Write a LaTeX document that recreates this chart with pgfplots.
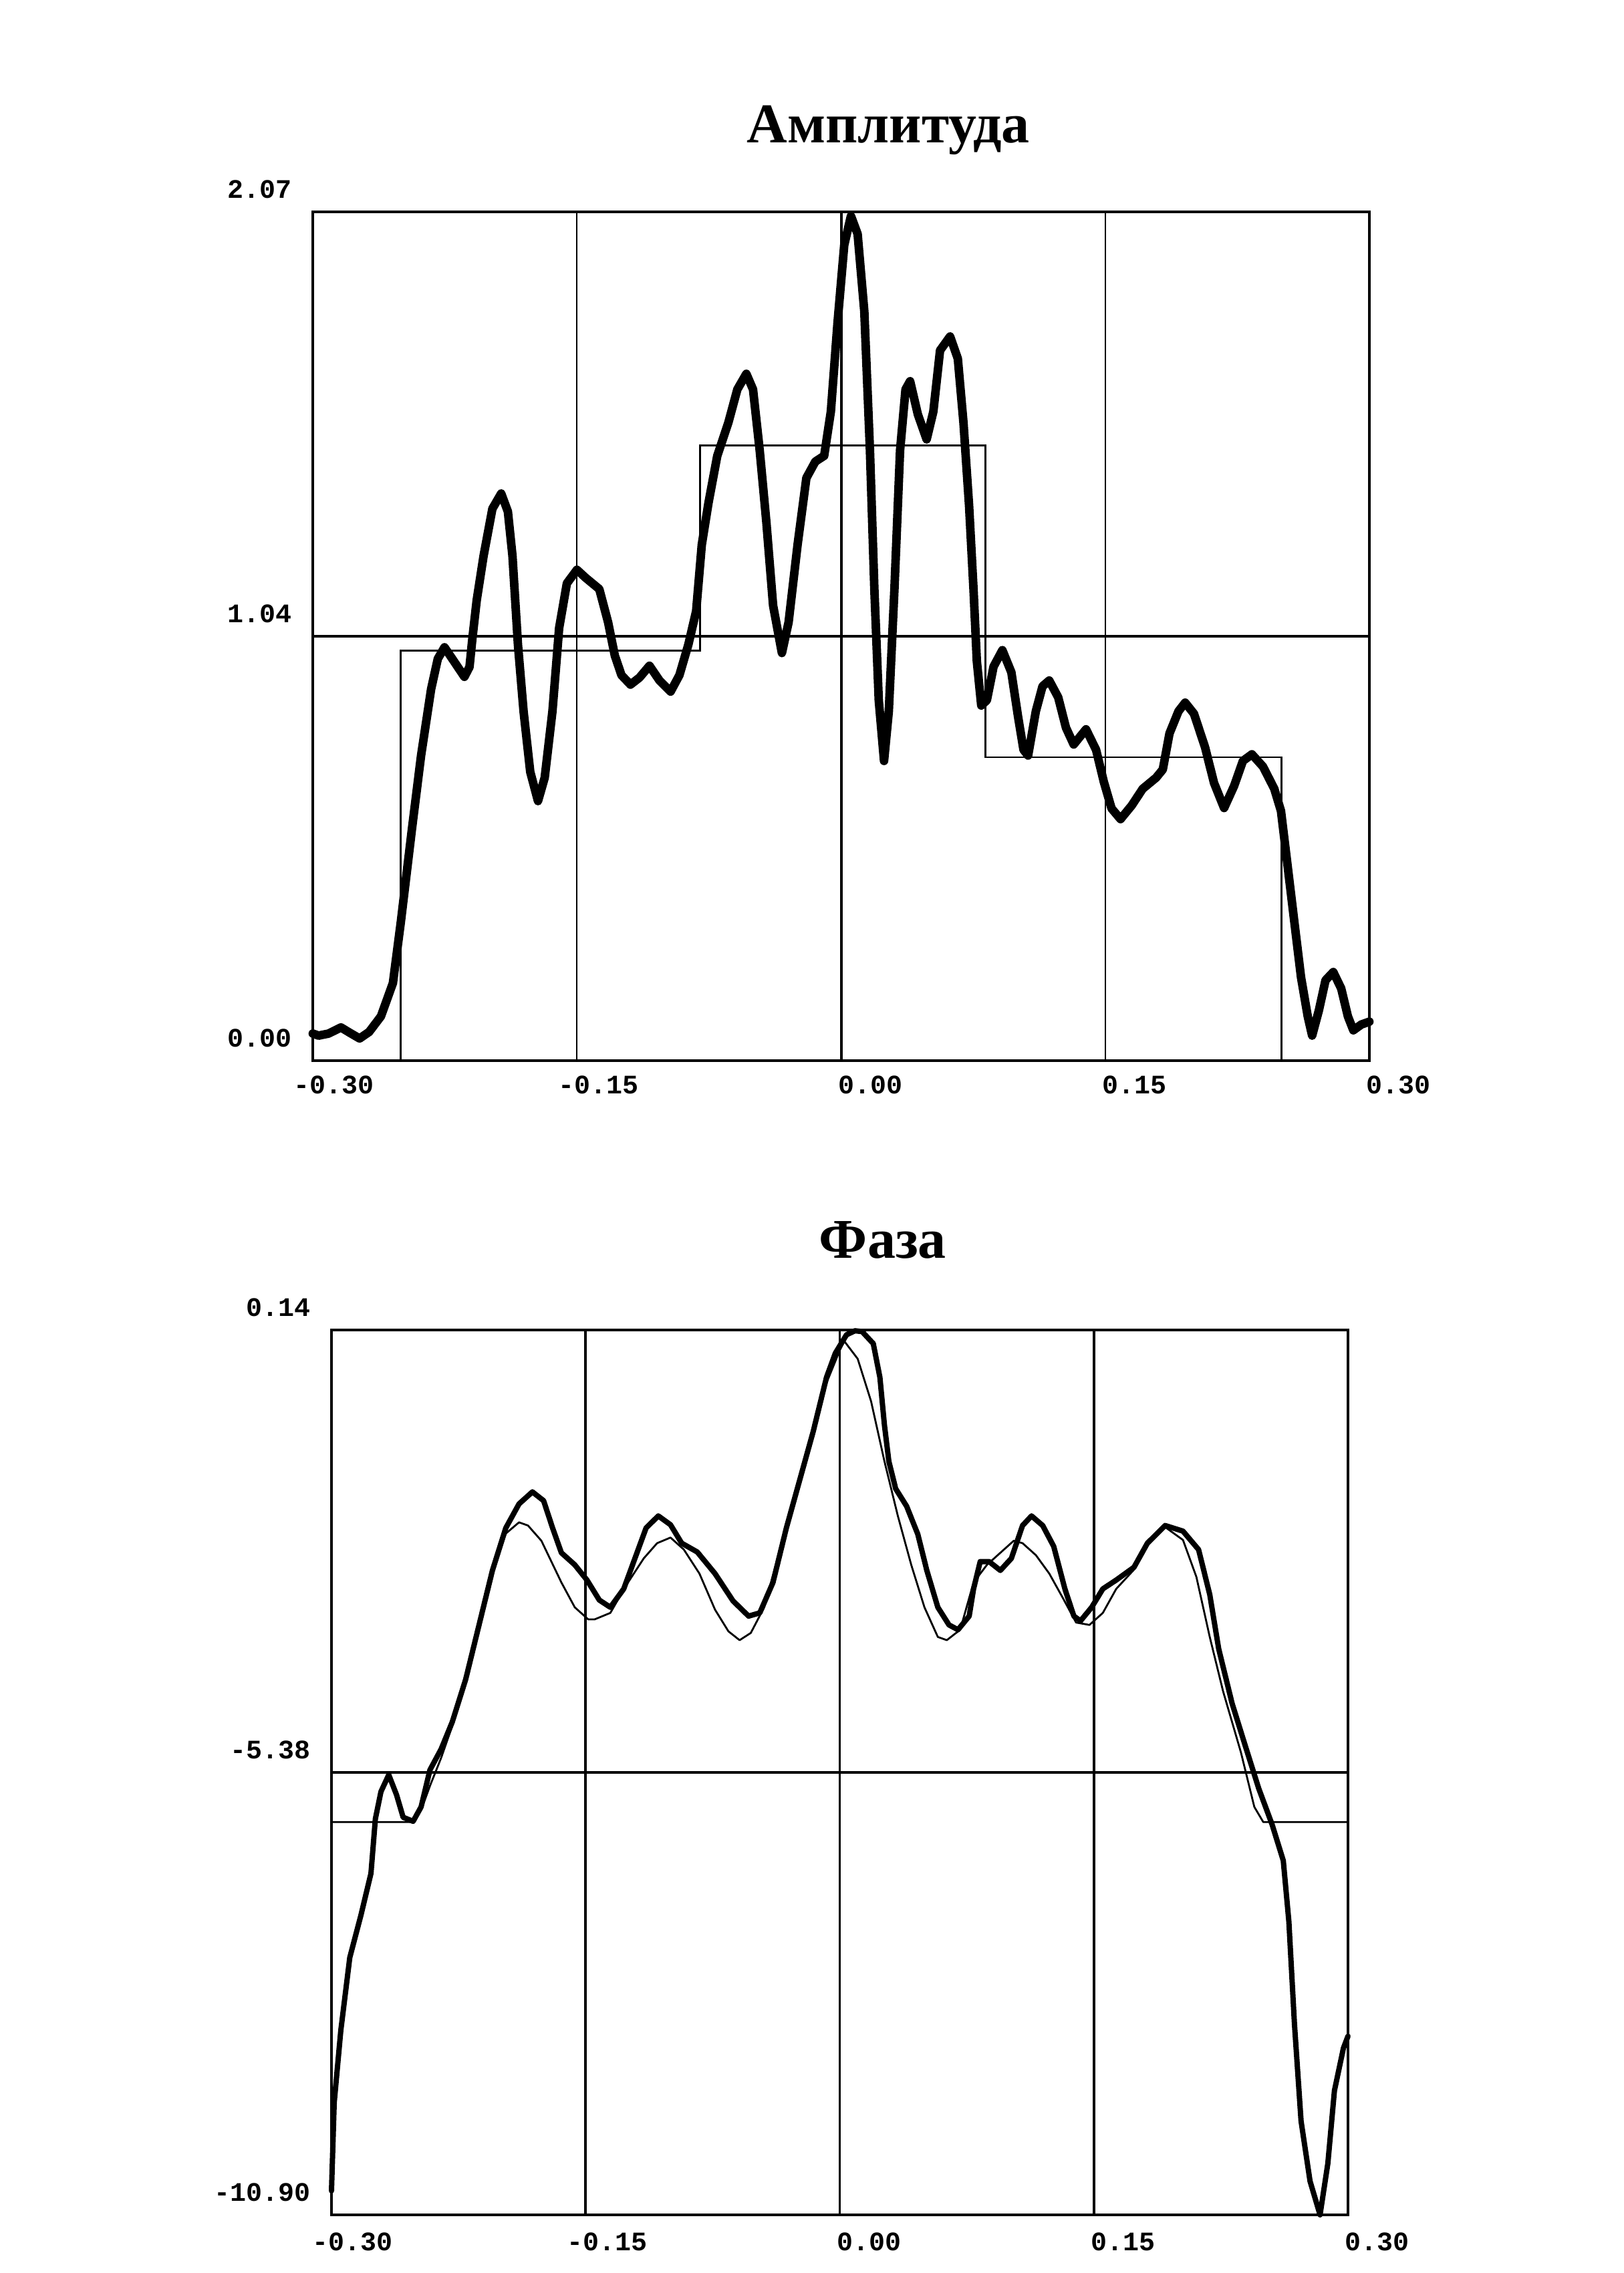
\documentclass[border=0pt]{standalone}
\usepackage{fontspec}
\setmainfont{Liberation Serif}
\newfontfamily\monofont{Liberation Mono}
\usepackage{pgfplots}
\pgfplotsset{compat=1.18}
\pgfplotsset{
  oldstyle/.style={
    scale only axis, anchor=south west, clip=false,
    xmin=-0.3, xmax=0.3,
    xtick={-0.3,-0.15,0,0.15,0.3},
    xticklabels={\llap{-}0.30,\llap{-}0.15,0.00,0.15,0.30},
    major tick length=0pt,
    axis line style={line width=0.8pt, black},
    grid=major,
    major grid style={line width=0.5pt, black},
    tick label style={font={\monofont\bfseries\fontsize{10}{12}\selectfont}, inner sep=0pt},
    yticklabel style={anchor=base east, xshift=-7.75pt, yshift=5pt},
  }
}
\begin{document}
\begin{tikzpicture}[x=1pt,y=1pt]
\path[use as bounding box] (0,0) rectangle (607.25,850.25);
\node[font={\fontsize{21}{25}\selectfont\bfseries}] at (332.25,801.5) {Амплитуда};
\begin{axis}[oldstyle, at={(117pt,453.5pt)}, width=395.25pt, height=317.5pt,
  ymin=0, ymax=2.07, ytick={0,1.035,2.07}, yticklabels={0.00,1.04,2.07},
  xticklabel style={anchor=north west, xshift=-1.25pt, yshift=-5.4pt}]
\addplot[black, line width=1pt] coordinates {(0,0) (0,2.07)};
\addplot[black, line width=0.9pt] coordinates {(-0.3,1.035) (0.3,1.035)};
\addplot[black, line width=0.7pt] coordinates {(-0.3,0) (-0.25,0) (-0.25,1.0) (-0.08,1.0) (-0.08,1.5) (0.082,1.5) (0.082,0.74) (0.25,0.74) (0.25,0) (0.3,0)};
\addplot[black, line width=3.2pt, line join=round, line cap=round] table {
-0.3000 0.066
-0.2967 0.061
-0.2910 0.066
-0.2840 0.081
-0.2790 0.068
-0.2734 0.054
-0.2680 0.070
-0.2613 0.108
-0.2545 0.189
-0.2500 0.338
-0.2436 0.568
-0.2385 0.744
-0.2328 0.906
-0.2290 0.980
-0.2252 1.008
-0.2200 0.975
-0.2139 0.936
-0.2110 0.960
-0.2094 1.028
-0.2069 1.123
-0.2030 1.231
-0.1980 1.346
-0.1930 1.383
-0.1892 1.339
-0.1866 1.231
-0.1835 1.015
-0.1803 0.852
-0.1765 0.704
-0.1721 0.633
-0.1683 0.690
-0.1639 0.852
-0.1601 1.055
-0.1557 1.164
-0.1500 1.197
-0.1449 1.177
-0.1373 1.150
-0.1323 1.069
-0.1285 0.988
-0.1247 0.940
-0.1196 0.917
-0.1145 0.934
-0.1088 0.963
-0.1031 0.927
-0.0968 0.900
-0.0918 0.940
-0.0867 1.015
-0.0823 1.096
-0.0791 1.258
-0.0753 1.360
-0.0703 1.475
-0.0640 1.556
-0.0589 1.637
-0.0538 1.675
-0.0500 1.637
-0.0462 1.488
-0.0424 1.312
-0.0386 1.110
-0.0336 0.994
-0.0298 1.069
-0.0247 1.258
-0.0197 1.421
-0.0146 1.461
-0.0096 1.475
-0.0058 1.583
-0.0020 1.800
0.0018 1.989
0.0056 2.060
0.0094 2.016
0.0132 1.827
0.0164 1.488
0.0189 1.150
0.0214 0.879
0.0244 0.731
0.0271 0.852
0.0303 1.150
0.0335 1.488
0.0366 1.637
0.0392 1.657
0.0436 1.576
0.0486 1.515
0.0524 1.583
0.0562 1.732
0.0619 1.766
0.0663 1.712
0.0695 1.556
0.0727 1.353
0.0752 1.150
0.0771 0.974
0.0796 0.866
0.0828 0.879
0.0866 0.961
0.0916 1.001
0.0967 0.947
0.1005 0.839
0.1036 0.758
0.1062 0.744
0.1106 0.852
0.1144 0.913
0.1182 0.927
0.1233 0.886
0.1277 0.812
0.1321 0.771
0.1391 0.808
0.1448 0.758
0.1492 0.680
0.1536 0.615
0.1587 0.589
0.1650 0.622
0.1713 0.663
0.1789 0.690
0.1827 0.710
0.1865 0.798
0.1916 0.852
0.1954 0.873
0.2004 0.846
0.2067 0.764
0.2118 0.677
0.2175 0.616
0.2232 0.670
0.2282 0.731
0.2333 0.747
0.2396 0.717
0.2460 0.663
0.2498 0.609
0.2536 0.474
0.2574 0.338
0.2612 0.203
0.2650 0.108
0.2675 0.061
0.2713 0.122
0.2751 0.196
0.2795 0.216
0.2840 0.176
0.2878 0.108
0.2909 0.074
0.2954 0.088
0.3000 0.095
};
\end{axis}

\node[font={\fontsize{21}{25}\selectfont\bfseries}] at (330.2,386.5) {Фаза};
\begin{axis}[oldstyle, at={(124pt,21.75pt)}, width=380.25pt, height=331pt,
  ymin=-10.90, ymax=0.14, ytick={-10.90,-5.38,0.14}, yticklabels={-10.90,-5.38,0.14},
  major grid style={line width=0.9pt, black},
  xticklabel style={anchor=north west, xshift=-1.25pt, yshift=-6.5pt}]
\addplot[black, line width=0.6pt] coordinates {(-0.3,-5.38) (0.3,-5.38)};
\addplot[black, line width=0.7pt, line join=round] table {
-0.3000 -6.00
-0.2518 -6.00
-0.2471 -5.85
-0.2419 -5.55
-0.2353 -5.20
-0.2287 -4.80
-0.2208 -4.25
-0.2129 -3.56
-0.2050 -2.88
-0.1971 -2.40
-0.1893 -2.26
-0.1840 -2.30
-0.1761 -2.49
-0.1643 -3.01
-0.1564 -3.32
-0.1485 -3.47
-0.1446 -3.47
-0.1354 -3.39
-0.1262 -3.05
-0.1157 -2.71
-0.1078 -2.52
-0.0999 -2.45
-0.0920 -2.60
-0.0828 -2.90
-0.0736 -3.35
-0.0657 -3.62
-0.0591 -3.73
-0.0525 -3.64
-0.0446 -3.32
-0.0367 -2.71
-0.0262 -1.88
-0.0157 -1.17
-0.0078 -0.52
0.0001 -0.11
0.0027 0.00
0.0106 -0.22
0.0185 -0.75
0.0264 -1.50
0.0343 -2.18
0.0422 -2.79
0.0500 -3.32
0.0579 -3.69
0.0632 -3.73
0.0711 -3.60
0.0790 -3.01
0.0869 -2.79
0.0948 -2.64
0.1027 -2.49
0.1079 -2.52
0.1158 -2.67
0.1237 -2.90
0.1316 -3.20
0.1395 -3.51
0.1474 -3.54
0.1553 -3.39
0.1632 -3.09
0.1737 -2.85
0.1816 -2.55
0.1921 -2.32
0.2026 -2.48
0.2105 -2.94
0.2184 -3.69
0.2263 -4.37
0.2368 -5.13
0.2447 -5.81
0.2500 -6.00
0.3000 -6.00
};
\addplot[black, line width=2pt, line join=round, line cap=round] table {
-0.3000 -10.60
-0.2984 -9.50
-0.2945 -8.60
-0.2892 -7.69
-0.2826 -7.16
-0.2767 -6.64
-0.2741 -5.96
-0.2708 -5.62
-0.2662 -5.41
-0.2616 -5.66
-0.2577 -5.94
-0.2518 -5.99
-0.2471 -5.81
-0.2419 -5.35
-0.2353 -5.09
-0.2287 -4.75
-0.2208 -4.22
-0.2129 -3.54
-0.2050 -2.86
-0.1971 -2.33
-0.1893 -2.03
-0.1814 -1.88
-0.1748 -1.99
-0.1695 -2.33
-0.1643 -2.64
-0.1564 -2.79
-0.1492 -2.98
-0.1419 -3.23
-0.1354 -3.32
-0.1275 -3.09
-0.1209 -2.71
-0.1143 -2.33
-0.1071 -2.18
-0.0999 -2.29
-0.0933 -2.52
-0.0841 -2.63
-0.0736 -2.90
-0.0630 -3.24
-0.0538 -3.43
-0.0472 -3.39
-0.0394 -3.01
-0.0315 -2.33
-0.0236 -1.73
-0.0157 -1.13
-0.0078 -0.45
-0.0026 -0.15
0.0040 0.08
0.0090 0.13
0.0132 0.12
0.0198 -0.03
0.0237 -0.45
0.0264 -1.05
0.0290 -1.50
0.0330 -1.84
0.0395 -2.06
0.0461 -2.41
0.0514 -2.86
0.0579 -3.32
0.0645 -3.54
0.0698 -3.60
0.0764 -3.43
0.0790 -3.09
0.0829 -2.75
0.0882 -2.75
0.0948 -2.86
0.1013 -2.71
0.1079 -2.30
0.1132 -2.18
0.1198 -2.30
0.1263 -2.56
0.1329 -3.09
0.1382 -3.43
0.1421 -3.49
0.1487 -3.32
0.1553 -3.09
0.1632 -2.98
0.1737 -2.82
0.1816 -2.52
0.1921 -2.30
0.2026 -2.37
0.2118 -2.60
0.2184 -3.16
0.2237 -3.84
0.2316 -4.52
0.2394 -5.05
0.2473 -5.58
0.2552 -6.03
0.2618 -6.48
0.2651 -7.24
0.2684 -8.52
0.2723 -9.73
0.2776 -10.48
0.2835 -10.90
0.2881 -10.26
0.2920 -9.35
0.2973 -8.82
0.3000 -8.67
};
\end{axis}
\end{tikzpicture}
\end{document}
